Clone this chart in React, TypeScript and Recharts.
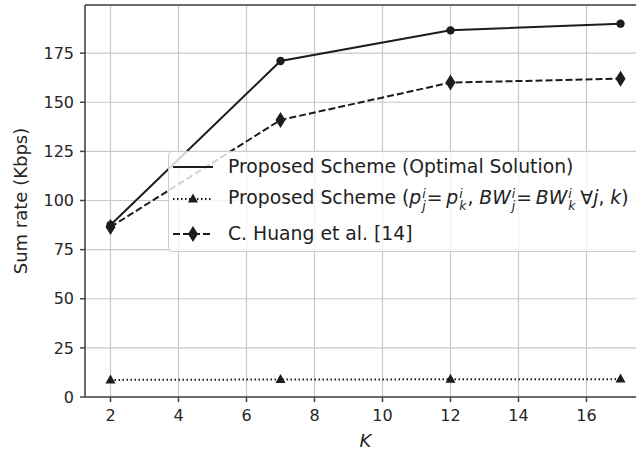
import React from "react";
import {
  CartesianGrid,
  Label,
  Legend,
  Line,
  LineChart,
  ReferenceLine,
  XAxis,
  YAxis,
} from "recharts";

const kValues = [2, 7, 12, 17];
const optimalRate = [87.5, 171, 186.6, 190];
const equalAllocRate = [8.7, 8.9, 9.0, 9.1];
const huangRate = [86.5, 141, 160, 162];
const xTicks = [2, 4, 6, 8, 10, 12, 14, 16];
const yTicks = [0, 25, 50, 75, 100, 125, 150, 175];

const data = kValues.map((k, i) => ({
  k,
  optimal: optimalRate[i],
  equal: equalAllocRate[i],
  huang: huangRate[i],
}));

const FONT = "'DejaVu Sans', sans-serif";
const INK = "#1c1c1c";
const TEXT = "#222222";

const CircleDot = (props: any) => {
  const { cx, cy } = props;
  if (cx == null || cy == null) return null;
  return <circle cx={cx} cy={cy} r={4.2} fill={INK} />;
};

const TriangleDot = (props: any) => {
  const { cx, cy } = props;
  if (cx == null || cy == null) return null;
  return (
    <path
      d={`M${cx},${cy - 5.5} L${cx + 5},${cy + 3.5} L${cx - 5},${cy + 3.5} Z`}
      fill={INK}
    />
  );
};

const DiamondDot = (props: any) => {
  const { cx, cy } = props;
  if (cx == null || cy == null) return null;
  return (
    <path
      d={`M${cx},${cy - 8} L${cx + 5},${cy} L${cx},${cy + 8} L${cx - 5},${cy} Z`}
      fill={INK}
    />
  );
};

// stacked super/subscript like mathtext
const Sx = ({ sup, sub }: { sup: string; sub: string }) => (
  <span
    style={{
      display: "inline-flex",
      flexDirection: "column",
      fontSize: 12.5,
      lineHeight: "12px",
      verticalAlign: 6,
      margin: "0 1px 0 1px",
      fontStyle: "italic",
      color: TEXT,
    }}
  >
    <span style={{ color: TEXT }}>{sup}</span>
    <span style={{ color: TEXT }}>{sub}</span>
  </span>
);

const Handle = ({ kind }: { kind: "solid" | "dotted" | "dashed" }) => (
  <svg width={44} height={20} style={{ marginRight: 13, flex: "none" }}>
    <line
      x1={2}
      y1={10}
      x2={42}
      y2={10}
      stroke={INK}
      strokeWidth={2}
      strokeDasharray={kind === "dotted" ? "1.5 2.5" : kind === "dashed" ? "7 3" : undefined}
    />
    {kind === "dotted" && <TriangleDot cx={22} cy={10} />}
    {kind === "dashed" && <DiamondDot cx={22} cy={10} />}
  </svg>
);

const LegendBox = () => (
  <div
    style={{
      width: 480,
      height: 101,
      boxSizing: "border-box",
      background: "rgba(255,255,255,0.8)",
      border: "1px solid #cccccc",
      borderRadius: 4,
      fontFamily: FONT,
      fontSize: 18.8,
      color: TEXT,
      padding: "0 0 0 2px",
    }}
  >
    <div style={{ display: "flex", alignItems: "center", height: 29 }}>
      <Handle kind="solid" />
      <span>Proposed Scheme (Optimal Solution)</span>
    </div>
    <div style={{ display: "flex", alignItems: "center", height: 36, whiteSpace: "nowrap" }}>
      <Handle kind="dotted" />
      <span style={{ color: TEXT }}>
        Proposed Scheme (<i>p</i>
        <Sx sup="i" sub="j" />={"\u2009"}<i>p</i>
        <Sx sup="i" sub="k" />, <i>BW</i>
        <Sx sup="i" sub="j" />={"\u2009"}<i>BW</i>
        <Sx sup="i" sub="k" />{"\u2009"}∀<i>j</i>, <i>k</i>)
      </span>
    </div>
    <div style={{ display: "flex", alignItems: "center", height: 33 }}>
      <Handle kind="dashed" />
      <span>C. Huang et al. [14]</span>
    </div>
  </div>
);

export default function App() {
  return (
    <div
      style={{
        position: "absolute",
        left: 0,
        top: 0,
        width: 636,
        height: 450,
        overflow: "hidden",
        background: "#fff",
      }}
    >
      <LineChart
        width={660}
        height={450}
        data={data}
        margin={{ top: 5, right: 14, left: 0, bottom: 23 }}
        style={{ fontFamily: FONT }}
      >
        <CartesianGrid stroke="#c8c8c8" strokeWidth={1.2} />
        <XAxis
          dataKey="k"
          type="number"
          domain={[1.25, 17.75]}
          ticks={xTicks}
          allowDataOverflow
          height={30}
          stroke="#444"
          strokeWidth={1.5}
          tickSize={5}
          tickMargin={8}
          tick={{ fill: "#262626", fontSize: 16 }}
          tickLine={{ stroke: "#444" }}
        >
          <Label
            content={({ viewBox }: any) => (
              <text
                x={viewBox.x + viewBox.width / 2}
                y={viewBox.y + 50}
                textAnchor="middle"
                fontSize={18}
                fontStyle="italic"
                fill="#262626"
              >
                K
              </text>
            )}
          />
        </XAxis>
        <YAxis
          type="number"
          domain={[0, 199.5]}
          ticks={yTicks}
          allowDataOverflow
          width={85}
          stroke="#444"
          strokeWidth={1.5}
          tickSize={5}
          tickMargin={6}
          tick={{ fill: "#262626", fontSize: 16 }}
          tickLine={{ stroke: "#444" }}
        >
          <Label
            content={({ viewBox }: any) => {
              const cy = viewBox.y + viewBox.height / 2;
              return (
                <text
                  x={20}
                  y={cy}
                  transform={`rotate(-90 20 ${cy})`}
                  textAnchor="middle"
                  dominantBaseline="central"
                  fontSize={18}
                  fill="#262626"
                >
                  Sum rate (Kbps)
                </text>
              );
            }}
          />
        </YAxis>
        <ReferenceLine y={199.5} stroke="#444" strokeWidth={1.5} />
        <Line
          dataKey="optimal"
          stroke={INK}
          strokeWidth={2}
          dot={<CircleDot />}
          activeDot={false}
          isAnimationActive={false}
        />
        <Line
          dataKey="equal"
          stroke={INK}
          strokeWidth={2}
          strokeDasharray="1.5 2.5"
          dot={<TriangleDot />}
          activeDot={false}
          isAnimationActive={false}
        />
        <Line
          dataKey="huang"
          stroke={INK}
          strokeWidth={2}
          strokeDasharray="7 3"
          dot={<DiamondDot />}
          activeDot={false}
          isAnimationActive={false}
        />
        <Legend
          layout="horizontal"
          verticalAlign="middle"
          align="center"
          content={() => <LegendBox />}
          wrapperStyle={{ left: 168, top: 151, width: 480 }}
        />
      </LineChart>
    </div>
  );
}
